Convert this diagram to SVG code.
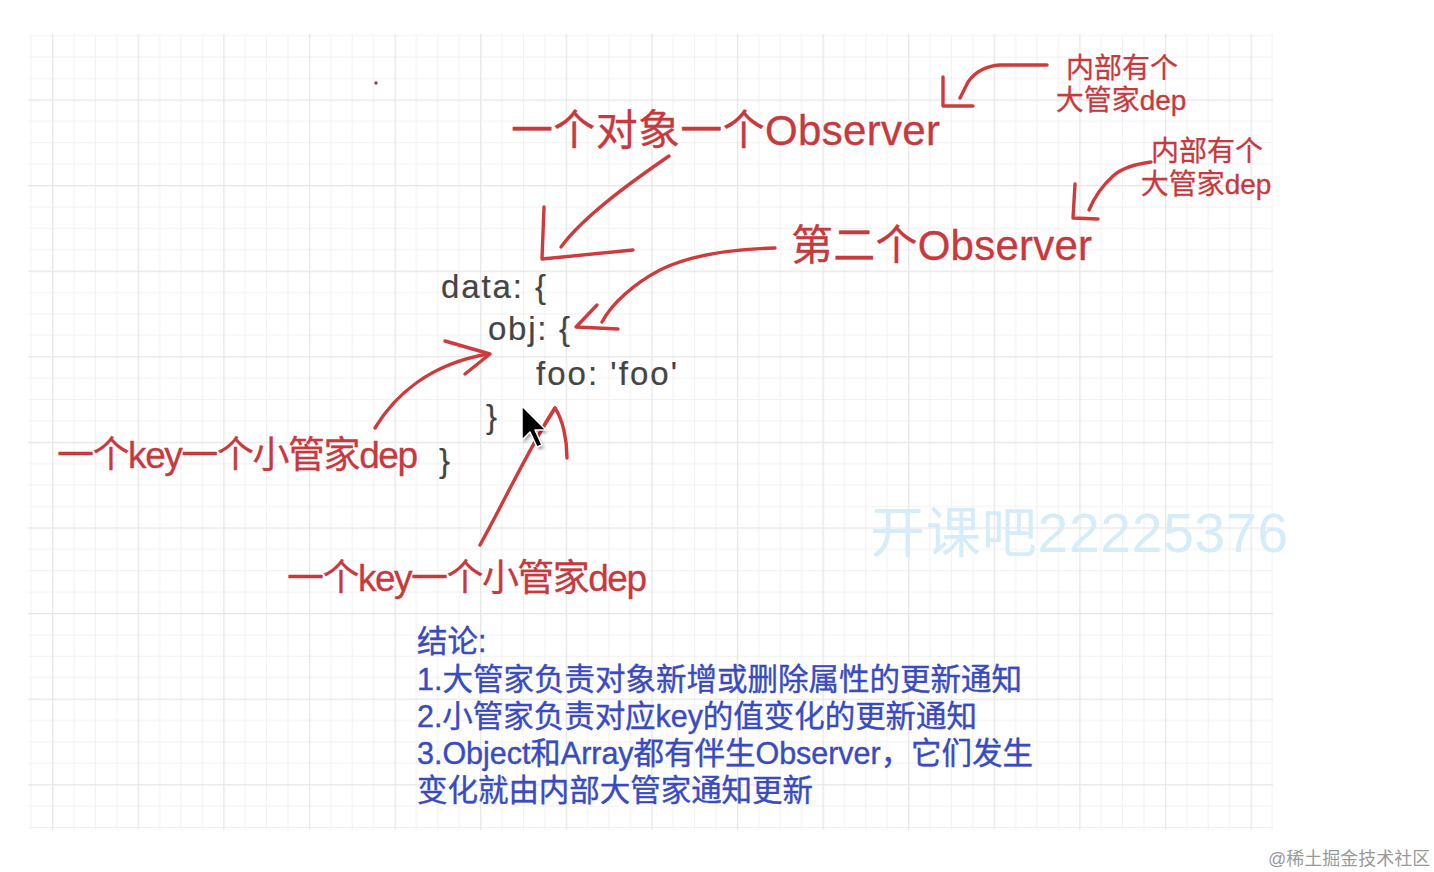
<svg xmlns="http://www.w3.org/2000/svg" width="1434" height="872" viewBox="0 0 1434 872">
<defs>
<pattern id="grid" x="52.1" y="13.8" width="85.6" height="85.6" patternUnits="userSpaceOnUse">
<rect x="21.4" y="0" width="1" height="85.6" fill="#f1f1f1"/>
<rect x="42.8" y="0" width="1" height="85.6" fill="#f1f1f1"/>
<rect x="64.2" y="0" width="1" height="85.6" fill="#f1f1f1"/>
<rect x="0" y="21.4" width="85.6" height="1" fill="#f1f1f1"/>
<rect x="0" y="42.8" width="85.6" height="1" fill="#f1f1f1"/>
<rect x="0" y="64.2" width="85.6" height="1" fill="#f1f1f1"/>
<rect x="0" y="0" width="1.3" height="85.6" fill="#e6e6e6"/>
<rect x="0" y="0" width="85.6" height="1.3" fill="#e6e6e6"/>
</pattern>
<filter id="soft" x="-20%" y="-20%" width="140%" height="140%"><feGaussianBlur stdDeviation="1.5"/></filter>
</defs>
<style>
.red{font-family:"Liberation Sans","Noto Sans CJK SC",sans-serif;fill:#c8393d;stroke:#c8393d;stroke-width:0.3;}
.code{font-family:"Liberation Sans","Noto Sans CJK SC",sans-serif;fill:#454545;stroke:#454545;stroke-width:0.2;font-size:33px;}
.blue{font-family:"Liberation Sans","Noto Sans CJK SC",sans-serif;fill:#3a4bc2;stroke:#3a4bc2;stroke-width:0.4;font-size:30.5px;}
.stroke{fill:none;stroke:#cf3a3c;stroke-width:3.4;stroke-linecap:round;stroke-linejoin:round;}
</style>
<rect width="1434" height="872" fill="#ffffff"/>
<rect x="28" y="34" width="1245" height="796" fill="url(#grid)"/>
<circle cx="376" cy="83" r="1.7" fill="#a8324a"/>

<g id="watermark">
<text x="870" y="552" font-family="Liberation Sans, Noto Sans CJK SC, sans-serif" font-size="55" fill="#d6ecf8" textLength="418" lengthAdjust="spacing">开课吧22225376</text>
</g>

<g id="connectors">
<path class="stroke" d="M669,156 C640,176 585,214 561,247"/>
<path class="stroke" d="M544,207 L542,259 L633,250"/>
<path class="stroke" d="M1047,65 L1000,65 C985,66 975,72 968,82 L960,98"/>
<path class="stroke" d="M943,77 L943,106 L973,106"/>
<path class="stroke" d="M1151,162 C1135,164 1122,168 1113,176 C1102,186 1094,198 1089,210"/>
<path class="stroke" d="M1075,184 L1073,218 L1098,219"/>
<path class="stroke" d="M775,248 C735,249 690,255 660,270 C635,283 612,303 602,322"/>
<path class="stroke" d="M597,305 L576,327 L618,329"/>
<path class="stroke" d="M375,428 C395,395 430,364 488,354"/>
<path class="stroke" d="M445,341 L490,354 L465,374"/>
<path class="stroke" d="M480,545 C505,500 530,446 555,408"/>
<path class="stroke" d="M545,424 L555,408 C563,420 567,440 567,458"/>
</g>

<g id="observer1">
<text class="red" x="511" y="145" font-size="42" textLength="429" lengthAdjust="spacing">一个对象一个Observer</text>
</g>
<g id="observer2">
<text class="red" x="791" y="260" font-size="42" textLength="301" lengthAdjust="spacing">第二个Observer</text>
</g>
<g id="dep-big-1">
<text class="red" font-size="28" text-anchor="middle"><tspan x="1122" y="78">内部有个</tspan><tspan x="1121" y="110">大管家dep</tspan></text>
</g>
<g id="dep-big-2">
<text class="red" font-size="28" text-anchor="middle"><tspan x="1207" y="161">内部有个</tspan><tspan x="1206" y="194">大管家dep</tspan></text>
</g>

<g id="code">
<text class="code" x="441" y="298" textLength="105" lengthAdjust="spacing">data: {</text>
<text class="code" x="488" y="340" textLength="82" lengthAdjust="spacing">obj: {</text>
<text class="code" x="536" y="385" textLength="141" lengthAdjust="spacing">foo: 'foo'</text>
<text class="code" x="486" y="428">}</text>
<text class="code" x="439" y="472">}</text>
</g>

<g id="key-dep-1">
<text class="red" x="57" y="468" font-size="37" textLength="361" lengthAdjust="spacing">一个key一个小管家dep</text>
</g>
<g id="key-dep-2">
<text class="red" x="287" y="591" font-size="37" textLength="360" lengthAdjust="spacing">一个key一个小管家dep</text>
</g>

<g id="cursor">
<path d="M524,409 L524,443 L532,435 L539,450 L544,448 L537,433 L548,433 Z" fill="#000" opacity="0.35" filter="url(#soft)"/>
<path d="M522,406 L522,440 L530,432 L537,447 L542,445 L535,430 L546,430 Z" fill="#000" stroke="#fff" stroke-width="1.5" stroke-linejoin="round"/>
</g>

<g id="conclusion">
<text class="blue" x="417" y="652">结论:</text>
<text class="blue" x="417" y="690" textLength="605" lengthAdjust="spacing">1.大管家负责对象新增或删除属性的更新通知</text>
<text class="blue" x="417" y="727" textLength="560" lengthAdjust="spacing">2.小管家负责对应key的值变化的更新通知</text>
<text class="blue" x="417" y="764" textLength="616" lengthAdjust="spacing">3.Object和Array都有伴生Observer，它们发生</text>
<text class="blue" x="417" y="801" textLength="396" lengthAdjust="spacing">变化就由内部大管家通知更新</text>
</g>

<g id="footer">
<text x="1268" y="865" font-family="Liberation Sans, Noto Sans CJK SC, sans-serif" font-size="18" fill="#9a9a9a">@稀土掘金技术社区</text>
</g>
</svg>
